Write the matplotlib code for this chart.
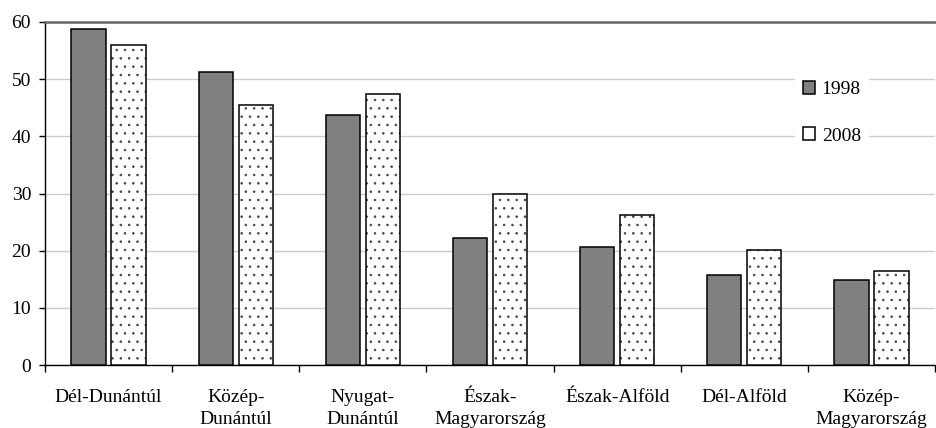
import numpy as np
import matplotlib
matplotlib.use("Agg")
import matplotlib.pyplot as plt
from matplotlib.patches import Patch

regions = ["Dél-Dunántúl", "Közép-\nDunántúl", "Nyugat-\nDunántúl", "Észak-\nMagyarország",
           "Észak-Alföld", "Dél-Alföld", "Közép-\nMagyarország"]
values_1998 = [58.7, 51.3, 43.7, 22.3, 20.7, 15.7, 14.9]
values_2008 = [56.0, 45.4, 47.4, 30.0, 26.3, 20.1, 16.4]
years = ["1998", "2008"]

plt.rcParams["font.family"] = ["Liberation Serif", "DejaVu Serif"]
plt.rcParams["font.size"] = 14
plt.rcParams["hatch.linewidth"] = 0.6

fig = plt.figure(figsize=(9.36, 4.28), dpi=100)
ax = fig.add_axes([45 / 936, 1 - 365 / 428, 890 / 936, 343 / 428])

x = np.arange(len(regions))
w = 0.27
ax.bar(x - 0.157, values_1998, w, color="#808080", edgecolor="black", linewidth=1.1, zorder=3)
# dotted fill first, then black outline on top
ax.bar(x + 0.157, values_2008, w, color="white", edgecolor="#444444", linewidth=0,
       hatch="..", zorder=3)
ax.bar(x + 0.157, values_2008, w, fill=False, edgecolor="black", linewidth=1.1, zorder=4)

ax.set_xlim(-0.5, len(regions) - 0.5)
ax.set_ylim(0, 60)
ax.set_yticks(range(0, 61, 10))
ax.yaxis.grid(True, color="#cccccc", linewidth=1.0, zorder=0)
ax.set_axisbelow(True)

ax.set_xticks(x)
ax.set_xticklabels(regions, linespacing=1.45)
ax.set_xticks(np.arange(-0.5, len(regions), 1.0), minor=True)
ax.tick_params(axis="x", which="major", length=0, pad=17)
ax.tick_params(axis="x", which="minor", length=5, width=1, color="black")
ax.tick_params(axis="y", length=4, width=1, pad=6)

ax.spines["right"].set_visible(False)
ax.spines["top"].set_color("#666666")
ax.spines["top"].set_linewidth(1.8)
ax.spines["left"].set_linewidth(1.0)
ax.spines["bottom"].set_linewidth(1.0)

handles = [Patch(facecolor="#808080", edgecolor="black", linewidth=1.1, label=years[0]),
           Patch(facecolor="white", edgecolor="black", linewidth=1.1, hatch=".", label=years[1])]
leg = ax.legend(handles=handles, loc="center", bbox_to_anchor=(0.884, 0.735), frameon=True,
                handlelength=0.62, handleheight=0.62, handletextpad=0.35,
                labelspacing=1.5, borderpad=0.4, fancybox=False)
leg.get_frame().set_facecolor("white")
leg.get_frame().set_edgecolor("none")
leg.get_frame().set_alpha(1)

fig.savefig("out.png", dpi=100)
